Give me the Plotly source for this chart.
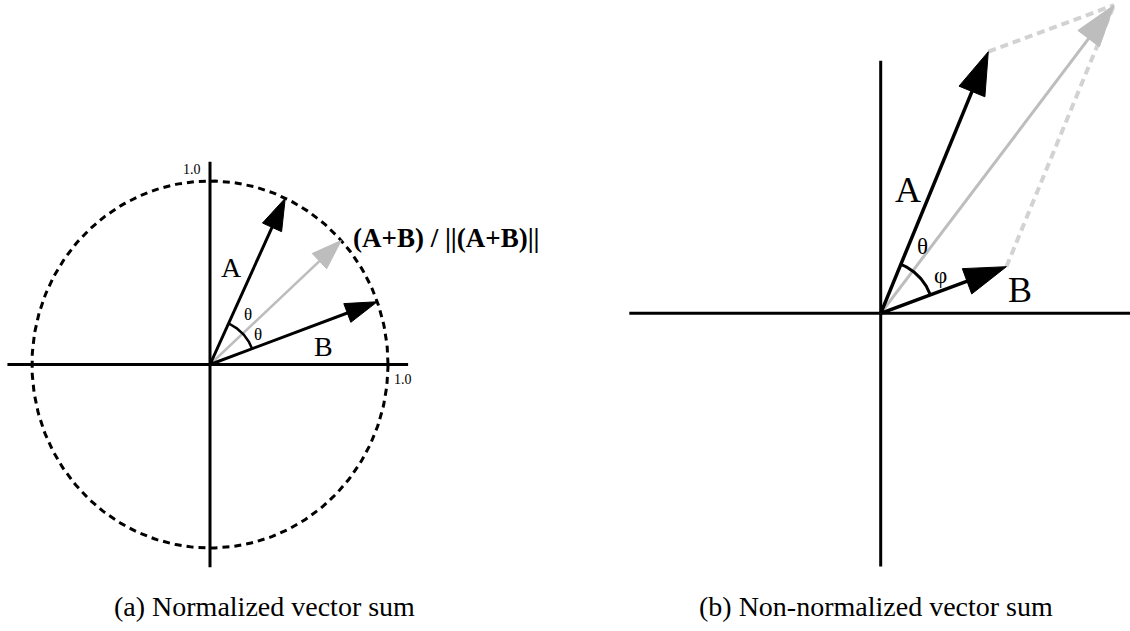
import numpy as np
import plotly.graph_objects as go

# ---- data ---------------------------------------------------------------
# (a) unit vectors, angles in degrees
ANGLE_A_DEG = 65.0
ANGLE_B_DEG = 20.0
UNIT_RADIUS = 1.0
# (b) raw vectors
VEC_A = [1.076, 2.616]
VEC_B = [1.257, 0.466]

CAPTIONS = ["(a) Normalized vector sum", "(b) Non-normalized vector sum"]
SUM_LABEL = "<b>(A+B) / ||(A+B)||</b>"

# ---- canvas / scales ----------------------------------------------------
W, H = 1130, 631
FONT = "Liberation Serif"
BLACK = "#000000"
GRAY = "#bdbdbd"
LIGHT = "#d2d2d2"

# pixels per data unit for each panel
SX1, SY1 = 178.0, 183.5
SX2, SY2 = 100.0, 100.0
# origin pixel positions
O1 = (210.0, 364.5)
O2 = (880.7, 313.3)

x1_range = [(0 - O1[0]) / SX1, (W / 2 - O1[0]) / SX1]
y1_range = [(O1[1] - H) / SY1, O1[1] / SY1]
x2_range = [(W / 2 - O2[0]) / SX2, (W - O2[0]) / SX2]
y2_range = [(O2[1] - H) / SY2, O2[1] / SY2]

fig = go.Figure()


def line(xs, ys, panel, color=BLACK, width=3, dash="solid"):
    sfx = "" if panel == 1 else "2"
    fig.add_trace(go.Scatter(
        x=xs, y=ys, mode="lines", xaxis="x" + sfx, yaxis="y" + sfx,
        line=dict(color=color, width=width, dash=dash),
        hoverinfo="skip", showlegend=False))


def arrow(tip, panel, color, head_len, head_w, width=3):
    sx, sy = (SX1, SY1) if panel == 1 else (SX2, SY2)
    sfx = "" if panel == 1 else "2"
    tx, ty = tip
    px, py = tx * sx, ty * sy
    n = np.hypot(px, py)
    ux, uy = px / n, py / n
    bx, by = px - head_len * ux, py - head_len * uy
    c1 = (bx - head_w / 2 * uy, by + head_w / 2 * ux)
    c2 = (bx + head_w / 2 * uy, by - head_w / 2 * ux)
    # shaft stops inside the head
    sx_end, sy_end = (px - 0.6 * head_len * ux) / sx, (py - 0.6 * head_len * uy) / sy
    line([0, sx_end], [0, sy_end], panel, color=color, width=width)
    fig.add_trace(go.Scatter(
        x=[tx, c1[0] / sx, c2[0] / sx, tx], y=[ty, c1[1] / sy, c2[1] / sy, ty],
        mode="lines", fill="toself", fillcolor=color,
        line=dict(color=color, width=1), xaxis="x" + sfx, yaxis="y" + sfx,
        hoverinfo="skip", showlegend=False))


def arc(a0, a1, r_px, panel, width=2.5):
    sx, sy = (SX1, SY1) if panel == 1 else (SX2, SY2)
    t = np.linspace(a0, a1, 60)
    line(r_px * np.cos(t) / sx, r_px * np.sin(t) / sy, panel, width=width)


# ---- panel (a) -----------------------------------------------------------
ta, tb = np.radians(ANGLE_A_DEG), np.radians(ANGLE_B_DEG)
a1 = np.array([np.cos(ta), np.sin(ta)]) * UNIT_RADIUS
b1 = np.array([np.cos(tb), np.sin(tb)]) * UNIT_RADIUS
s1 = (a1 + b1) / np.linalg.norm(a1 + b1) * UNIT_RADIUS

# axes
line([-1.138, 1.113], [0, 0], 1)
line([0, 0], [-1.105, 1.105], 1)
# unit circle
tt = np.linspace(0, 2 * np.pi, 400)
line(UNIT_RADIUS * np.cos(tt), UNIT_RADIUS * np.sin(tt), 1, width=3, dash="7px,5px")
# vectors
arrow(tuple(s1), 1, GRAY, 30, 21, width=2.5)
arrow(tuple(a1), 1, BLACK, 32, 21)
arrow(tuple(b1), 1, BLACK, 32, 20)
# angle arc (pixel-space angles)
ang_a_px = np.arctan2(a1[1] * SY1, a1[0] * SX1)
ang_b_px = np.arctan2(b1[1] * SY1, b1[0] * SX1)
arc(ang_b_px, ang_a_px, 45, 1)

# ---- panel (b) -----------------------------------------------------------
a2 = np.array(VEC_A)
b2 = np.array(VEC_B)
s2 = a2 + b2

line([-2.514, 2.6], [0, 0], 2)
line([0, 0], [-2.533, 2.526], 2)
# parallelogram sides
line([a2[0], s2[0]], [a2[1], s2[1]], 2, color=LIGHT, width=4, dash="8px,5px")
line([b2[0], s2[0]], [b2[1], s2[1]], 2, color=LIGHT, width=4, dash="8px,5px")
arrow(tuple(s2), 2, GRAY, 42, 27, width=3)
arrow(tuple(a2), 2, BLACK, 43, 28, width=3.5)
arrow(tuple(b2), 2, BLACK, 42, 27, width=3.5)
ang_a2 = np.arctan2(a2[1], a2[0])
ang_b2 = np.arctan2(b2[1], b2[0])
arc(ang_b2, ang_a2, 53, 2, width=3)

# ---- text ---------------------------------------------------------------
def label(x, y, text, panel, size, xanchor="center"):
    sfx = "" if panel == 1 else "2"
    fig.add_annotation(x=x, y=y, xref="x" + sfx, yref="y" + sfx, text=text,
                       showarrow=False, xanchor=xanchor, yanchor="middle",
                       font=dict(family=FONT, size=size, color=BLACK))


label(-0.103, 1.06, "1.0", 1, 14)
label(1.084, -0.084, "1.0", 1, 14)
label(0.122, 0.526, "A", 1, 28)
label(0.635, 0.097, "B", 1, 28)
label(0.215, 0.27, "θ", 1, 17)
label(0.271, 0.161, "θ", 1, 17)
label(0.79, 0.689, SUM_LABEL, 1, 27, xanchor="left")

label(0.273, 1.233, "A", 2, 36)
label(1.39, 0.233, "B", 2, 36)
label(0.42, 0.673, "θ", 2, 23)
label(0.593, 0.383, "φ", 2, 23)

for cx, txt in zip([0.2345, 0.775], CAPTIONS):
    fig.add_annotation(x=cx, y=1 - 606 / H, xref="paper", yref="paper", text=txt,
                       showarrow=False, xanchor="center", yanchor="middle",
                       font=dict(family=FONT, size=28, color=BLACK))

hidden = dict(visible=False, showgrid=False, zeroline=False, fixedrange=True)
fig.update_layout(
    width=W, height=H, margin=dict(l=0, r=0, t=0, b=0),
    paper_bgcolor="white", plot_bgcolor="white", showlegend=False,
    xaxis=dict(domain=[0, 0.5], range=x1_range, **hidden),
    yaxis=dict(domain=[0, 1], range=y1_range, **hidden),
    xaxis2=dict(domain=[0.5, 1], range=x2_range, **hidden),
    yaxis2=dict(domain=[0, 1], range=y2_range, anchor="x2", **hidden),
)

fig.write_html("out.html")
